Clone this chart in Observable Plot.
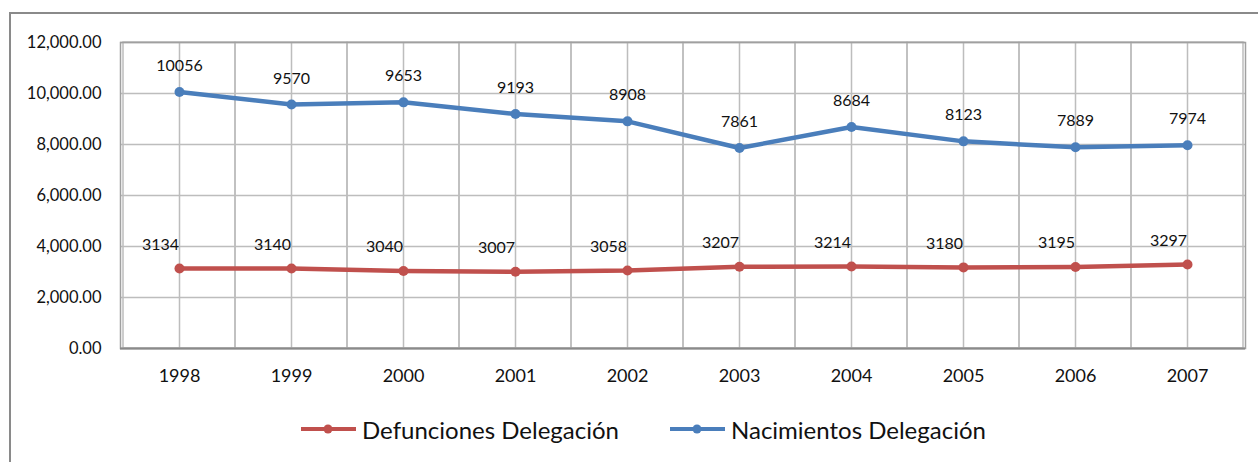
<!DOCTYPE html>
<html>
<head>
<meta charset="utf-8">
<script src="https://cdn.jsdelivr.net/npm/d3@7"></script>
<script src="https://cdn.jsdelivr.net/npm/@observablehq/plot@0.6"></script>
<style>
  html, body { margin: 0; padding: 0; background: #fff; }
  #page { position: relative; width: 1258px; height: 462px; overflow: hidden; font-family: Lato, "Open Sans", sans-serif; }
  #outer { position: absolute; left: 9px; top: 12px; right: -10px; bottom: -10px; border: 2px solid #8a8a8a; }
  #chart { position: absolute; left: 0; top: 0; }
  #legend { position: absolute; left: 0; top: 414px; height: 30px; width: 1258px; }
  .item { position: absolute; top: 0; height: 30px; display: flex; align-items: center; font-size: 24px; color: #111; }
  .item svg { margin-right: 5px; }
</style>
</head>
<body>
<div id="page">
  <div id="outer"></div>
  <div id="chart"></div>
  <div id="legend"></div>
</div>
<script>
const years = ["1998","1999","2000","2001","2002","2003","2004","2005","2006","2007"];
const nacimientos = [10056, 9570, 9653, 9193, 8908, 7861, 8684, 8123, 7889, 7974];
const defunciones = [3134, 3140, 3040, 3007, 3058, 3207, 3214, 3180, 3195, 3297];
const yTicks = [0, 2000, 4000, 6000, 8000, 10000, 12000];
const seriesNames = ["Defunciones Delegación", "Nacimientos Delegación"];
const seriesColors = ["#C0504D", "#4A7EBB"];

const defRows = years.map((y, i) => ({year: y, value: defunciones[i]}));
const nacRows = years.map((y, i) => ({year: y, value: nacimientos[i]}));

const fmt = d3.format(",.2f");

const chart = Plot.plot({
  width: 1258,
  height: 400,
  marginLeft: 120,
  marginRight: 13,
  marginTop: 42,
  marginBottom: 52,
  style: {fontFamily: "Lato, 'Open Sans', sans-serif", background: "transparent", color: "#111"},
  x: {type: "band", domain: years, padding: 0, label: null},
  y: {domain: [0, 12000], label: null},
  marks: [
    Plot.ruleY(yTicks, {stroke: "#bdbdbd", strokeWidth: 1.5}),
    Plot.ruleX(years, {stroke: "#bdbdbd", strokeWidth: 1.5}),
    Plot.cell(years, {x: d => d, fill: "none", stroke: "#bdbdbd", strokeWidth: 1.5, inset: 0}),
    Plot.frame({stroke: "#a0a0a0", strokeWidth: 1.5}),
    Plot.ruleY([0], {stroke: "#8a8a8a", strokeWidth: 2}),
    Plot.axisY({ticks: yTicks, tickFormat: fmt, tickSize: 0, tickPadding: 19, fontSize: 16.5, label: null}),
    Plot.axisX({tickSize: 0, tickPadding: 21, fontSize: 18, label: null}),
    Plot.line(defRows, {x: "year", y: "value", stroke: seriesColors[0], strokeWidth: 4.5}),
    Plot.dot(defRows, {x: "year", y: "value", fill: seriesColors[0], r: 5}),
    Plot.line(nacRows, {x: "year", y: "value", stroke: seriesColors[1], strokeWidth: 4.5}),
    Plot.dot(nacRows, {x: "year", y: "value", fill: seriesColors[1], r: 5}),
    Plot.text(defRows, {x: "year", y: "value", text: d => String(d.value), dx: -19, dy: -24, fontSize: 16, fill: "#111"}),
    Plot.text(nacRows, {x: "year", y: "value", text: d => String(d.value), dy: -26, fontSize: 16, fill: "#111"})
  ]
});
document.getElementById("chart").appendChild(chart);

const legend = document.getElementById("legend");
const lefts = [301, 670];
seriesNames.forEach((name, i) => {
  const item = document.createElement("div");
  item.className = "item";
  item.style.left = lefts[i] + "px";
  item.innerHTML = `<svg width="56" height="12"><line x1="0" y1="6" x2="55" y2="6" stroke="${seriesColors[i]}" stroke-width="4"/><circle cx="27" cy="6" r="4.5" fill="${seriesColors[i]}"/></svg><span>${name}</span>`;
  legend.appendChild(item);
});
</script>
</body>
</html>
